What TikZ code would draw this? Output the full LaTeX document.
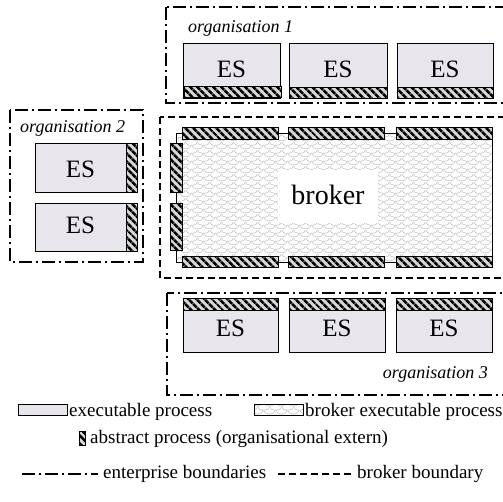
\documentclass[tikz,border=0pt]{standalone}
\usepackage{fontspec}
\setmainfont{Liberation Serif}
\newfontfamily\serifface{Liberation Serif}
\usetikzlibrary{patterns.meta,calc}

\definecolor{esfill}{RGB}{232,229,237}
\definecolor{hatchbg}{RGB}{215,215,215}
\definecolor{scalecol}{RGB}{185,185,185}

% fish-scale texture for the broker process
\tikzdeclarepattern{
  name=scales,
  type=uncolored,
  bounding box={(0pt,0pt) and (12pt,8pt)},
  tile size={(12pt,8pt)},
  code={
    \draw[line width=0.5pt] (0pt,4pt) arc[start angle=180,end angle=360,x radius=6pt,y radius=4pt];
    \draw[line width=0.5pt] (-6pt,8pt) arc[start angle=180,end angle=360,x radius=6pt,y radius=4pt];
    \draw[line width=0.5pt] (6pt,8pt) arc[start angle=180,end angle=360,x radius=6pt,y radius=4pt];
  }
}

\tikzset{
  orgline/.style={draw, line width=1.2pt, dash pattern=on 13pt off 4pt on 2pt off 4pt},
  brkline/.style={draw, line width=1.1pt, dash pattern=on 7pt off 4pt},
  esbox/.style={draw, line width=0.8pt, fill=esfill, inner sep=0pt},
  hatch/.style={draw, line width=0.8pt, inner sep=0pt, preaction={fill=hatchbg},
    pattern={Lines[angle=-45,distance=5.4pt,line width=2.8pt]}},
  scalefill/.style={pattern=scales, pattern color=scalecol},
  estext/.style={inner sep=0pt, anchor=base, font=\serifface\fontsize{25}{30}\selectfont},
  orgtext/.style={inner sep=0pt, font=\serifface\fontsize{18}{21}\selectfont\itshape},
  legtext/.style={inner sep=0pt, anchor=base west, font=\serifface\fontsize{19}{22}\selectfont},
}

\begin{document}
\begin{tikzpicture}[x=1pt, y=-1pt]
\useasboundingbox (0,0) rectangle (503,501);

% enterprise and broker boundaries
\draw[orgline] (166,7) rectangle (540,103);
\draw[orgline] (10,110) rectangle (143,262);
\draw[brkline] (160,117) rectangle (540,278);
\draw[orgline] (167,293) rectangle (540,395);

\node[orgtext, anchor=base west] (org1) at (188,32) {organisation 1};
\node[orgtext, anchor=base west] (org2) at (20,132) {organisation 2};
\node[orgtext, anchor=base east] (org3) at (488,378) {organisation 3};

% organisation 1: executable processes, abstract part at the bottom
\foreach \n/\xl/\xr in {a/183/280, b/289/387, c/397/493}{
  \node[esbox, anchor=north west, minimum width={\xr pt-\xl pt}, minimum height=55pt]
    (top\n) at (\xl,43) {};
  \node[hatch, anchor=south west, minimum width={\xr pt-\xl pt}, minimum height=11pt]
    (toph\n) at (top\n.south west) {};
  \node[estext] (topt\n) at ($(\xl,77)!0.5!(\xr,77)$) {ES};
}

% organisation 3: executable processes, abstract part at the top
\foreach \n/\xl/\xr in {a/183/278, b/289/385, c/396/492}{
  \node[esbox, anchor=north west, minimum width={\xr pt-\xl pt}, minimum height=54pt]
    (bot\n) at (\xl,298) {};
  \node[hatch, anchor=north west, minimum width={\xr pt-\xl pt}, minimum height=12pt]
    (both\n) at (bot\n.north west) {};
  \node[estext] (bott\n) at ($(\xl,336)!0.5!(\xr,336)$) {ES};
}

% organisation 2: executable processes, abstract part on the right
\foreach \n/\yt/\yb/\yl in {a/143/192/177, b/203/251/233}{
  \node[esbox, anchor=north west, minimum width=102pt, minimum height={\yb pt-\yt pt}]
    (lft\n) at (35,\yt) {};
  \node[hatch, anchor=north east, minimum width=11pt, minimum height={\yb pt-\yt pt}]
    (lfth\n) at (lft\n.north east) {};
  \node[estext] (lftt\n) at (80.5,\yl) {ES};
}

% broker executable process with its abstract interface parts
\node[draw, line width=0.8pt, inner sep=0pt, scalefill, anchor=north west,
      minimum width=316pt, minimum height=129pt] (broker) at (176,133) {};
\foreach \n/\xl/\xr in {a/182/278, b/288/384, c/396/492}{
  \node[hatch, anchor=north west, minimum width={\xr pt-\xl pt}, minimum height=12pt]
    (bkt\n) at (\xl,127) {};
  \node[hatch, anchor=north west, minimum width={\xr pt-\xl pt}, minimum height=11pt]
    (bkb\n) at (\xl,256) {};
}
\foreach \n/\yt/\yb in {a/143/192, b/203/250}{
  \node[hatch, anchor=north west, minimum width=12pt, minimum height={\yb pt-\yt pt}]
    (bkl\n) at (170,\yt) {};
}
\node[fill=white, inner sep=0pt, minimum width=100pt, minimum height=53pt] (brokerbg) at (328,196.5) {};
\node[inner sep=0pt, anchor=base, font=\serifface\fontsize{28}{33}\selectfont] (brokertext) at (328,204) {broker};

% legend
\node[esbox, anchor=north west, minimum width=49pt, minimum height=11pt] (legex) at (18,404) {};
\node[legtext] (legextext) at (69,416) {executable process};
\node[draw, line width=0.8pt, inner sep=0pt, scalefill, anchor=north west,
      minimum width=49pt, minimum height=11pt] (legbr) at (254,404) {};
\node[legtext] (legbrtext) at (305,416) {broker executable process};
\node[hatch, anchor=north west, minimum width=6pt, minimum height=14pt] (legab) at (79,431) {};
\node[legtext] (legabtext) at (90,443) {abstract process (organisational extern)};

\coordinate (leo1) at (22,474);
\coordinate (leo2) at (98,474);
\draw[orgline] (leo1) -- (leo2);
\node[legtext] (legeotext) at (103,478) {enterprise boundaries};
\coordinate (lbb1) at (278,474);
\coordinate (lbb2) at (353,474);
\draw[brkline] (lbb1) -- (lbb2);
\node[legtext] (legbbtext) at (357,478) {broker boundary};
\end{tikzpicture}
\end{document}
